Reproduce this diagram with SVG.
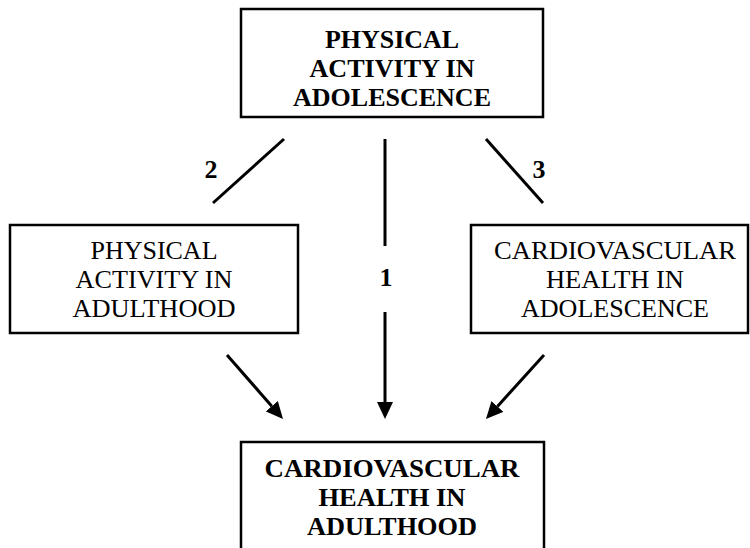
<svg xmlns="http://www.w3.org/2000/svg" width="750" height="548" viewBox="0 0 750 548">
  <style>
    .box { fill: #ffffff; stroke: #000000; stroke-width: 2.5; }
    text { font-family: 'Liberation Serif', 'DejaVu Serif', 'Times New Roman', serif; font-size: 26px; fill: #000000; text-anchor: middle; }
    .bold { font-weight: bold; }
    .link { stroke: #000000; stroke-width: 3; fill: none; }
  </style>
  <defs>
    <marker id="head" markerUnits="userSpaceOnUse" markerWidth="17" markerHeight="16" refX="0" refY="8" orient="auto" viewBox="0 0 17 16">
      <path d="M0,0 L17,8 L0,16 z" fill="#000000"/>
    </marker>
  </defs>
  <rect width="750" height="548" fill="#ffffff"/>

  <g id="pa-adolescence">
    <rect class="box" x="241" y="9" width="302" height="108"/>
    <text class="bold" x="392" y="48" textLength="134" lengthAdjust="spacingAndGlyphs">PHYSICAL</text>
    <text class="bold" x="392" y="77" textLength="165" lengthAdjust="spacingAndGlyphs">ACTIVITY IN</text>
    <text class="bold" x="392" y="106" textLength="198" lengthAdjust="spacingAndGlyphs">ADOLESCENCE</text>
  </g>

  <g id="pa-adulthood">
    <rect class="box" x="10" y="225" width="288" height="108"/>
    <text x="154" y="259" textLength="127" lengthAdjust="spacingAndGlyphs">PHYSICAL</text>
    <text x="154" y="288" textLength="157" lengthAdjust="spacingAndGlyphs">ACTIVITY IN</text>
    <text x="154" y="317" textLength="163" lengthAdjust="spacingAndGlyphs">ADULTHOOD</text>
  </g>

  <g id="cvh-adolescence">
    <rect class="box" x="471" y="225" width="277" height="108"/>
    <text x="615" y="259" textLength="242" lengthAdjust="spacingAndGlyphs">CARDIOVASCULAR</text>
    <text x="615" y="288" textLength="138" lengthAdjust="spacingAndGlyphs">HEALTH IN</text>
    <text x="615" y="317" textLength="188" lengthAdjust="spacingAndGlyphs">ADOLESCENCE</text>
  </g>

  <g id="cvh-adulthood">
    <rect class="box" x="241" y="442" width="303" height="120"/>
    <text class="bold" x="392" y="477" textLength="255" lengthAdjust="spacingAndGlyphs">CARDIOVASCULAR</text>
    <text class="bold" x="392" y="506" textLength="147" lengthAdjust="spacingAndGlyphs">HEALTH IN</text>
    <text class="bold" x="392" y="535" textLength="170" lengthAdjust="spacingAndGlyphs">ADULTHOOD</text>
  </g>

  <g id="connectors">
    <!-- path 2: adolescent activity to adult activity -->
    <line class="link" x1="284" y1="139" x2="213" y2="203"/>
    <text class="bold" x="211" y="178">2</text>
    <!-- path 3: adolescent activity to adolescent cardiovascular health -->
    <line class="link" x1="486" y1="139" x2="543" y2="203"/>
    <text class="bold" x="539" y="178">3</text>
    <!-- path 1: direct, interrupted by its label -->
    <line class="link" x1="385" y1="139" x2="385" y2="246"/>
    <text class="bold" x="386" y="286">1</text>
    <line class="link" x1="385" y1="312" x2="385" y2="402" marker-end="url(#head)"/>
    <!-- converging arrows into adult cardiovascular health -->
    <line class="link" x1="227" y1="355" x2="271.8" y2="406.2" marker-end="url(#head)"/>
    <line class="link" x1="544" y1="355" x2="497.4" y2="406.4" marker-end="url(#head)"/>
  </g>
</svg>
